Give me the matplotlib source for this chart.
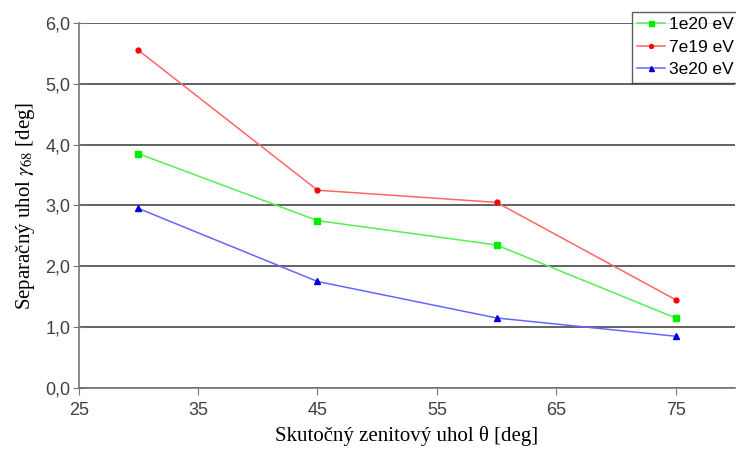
import matplotlib
matplotlib.use("Agg")
import matplotlib.pyplot as plt
from matplotlib.ticker import FuncFormatter

theta = [30, 45, 60, 75]
sep_1e20 = [3.85, 2.75, 2.35, 1.15]
sep_7e19 = [5.55, 3.25, 3.05, 1.45]
sep_3e20 = [2.95, 1.75, 1.15, 0.85]
labels = ["1e20 eV", "7e19 eV", "3e20 eV"]
x_ticks = [25, 35, 45, 55, 65, 75]
y_ticks = [0, 1, 2, 3, 4, 5, 6]

plt.rcParams["mathtext.fontset"] = "stix"

fig = plt.figure(figsize=(7.36, 4.49), dpi=100)
ax = fig.add_axes([0.107, 0.136, 0.892, 0.813])

ax.plot(theta, sep_1e20, color="#55ee55", lw=1.1, marker="s", ms=4.5,
        mfc="#00ee00", mec="#00ee00", label=labels[0])
ax.plot(theta, sep_7e19, color="#ff6666", lw=1.1, marker="o", ms=3.5,
        mfc="#ff0000", mec="#ff0000", label=labels[1])
ax.plot(theta, sep_3e20, color="#6666ff", lw=1.1, marker="^", ms=4.5,
        mfc="#0000dd", mec="#0000dd", label=labels[2])

ax.set_xlim(25, 80)
ax.set_ylim(0, 6)
ax.set_xticks(x_ticks)
ax.set_yticks(y_ticks)
ax.yaxis.set_major_formatter(FuncFormatter(lambda v, p: f"{v:.1f}".replace(".", ",")))

ax.yaxis.grid(True, color="#555555", lw=1.3)
ax.set_axisbelow(True)
for s in ["top", "right"]:
    ax.spines[s].set_visible(False)
for s in ["left", "bottom"]:
    ax.spines[s].set_color("#777777")
    ax.spines[s].set_linewidth(1.2)

for lab in ax.get_xticklabels() + ax.get_yticklabels():
    lab.set_fontfamily("Liberation Sans")
    lab.set_fontsize(13)
    lab.set_color("#404040")
ax.tick_params(axis="y", direction="inout", length=8, color="#777777", pad=2)
ax.tick_params(axis="x", direction="out", length=5, color="#777777", pad=5)

ax.set_xlabel("Skutočný zenitový uhol θ [deg]", family="Liberation Serif",
              fontsize=15, labelpad=5)
ax.set_ylabel(r"Separačný uhol $\gamma_{68}$ [deg]", family="Liberation Serif",
              fontsize=15, labelpad=6)

leg = fig.legend(loc="upper right", bbox_to_anchor=(1.004, 0.973),
                 prop={"family": "Liberation Sans", "size": 12.5},
                 frameon=True, fancybox=False, edgecolor="#333333",
                 handlelength=1.6, handletextpad=0.25, borderpad=0.3,
                 labelspacing=0.42, borderaxespad=0.0, markerscale=0.8)
leg.get_frame().set_linewidth(1.0)

fig.savefig("out.png", dpi=100)
